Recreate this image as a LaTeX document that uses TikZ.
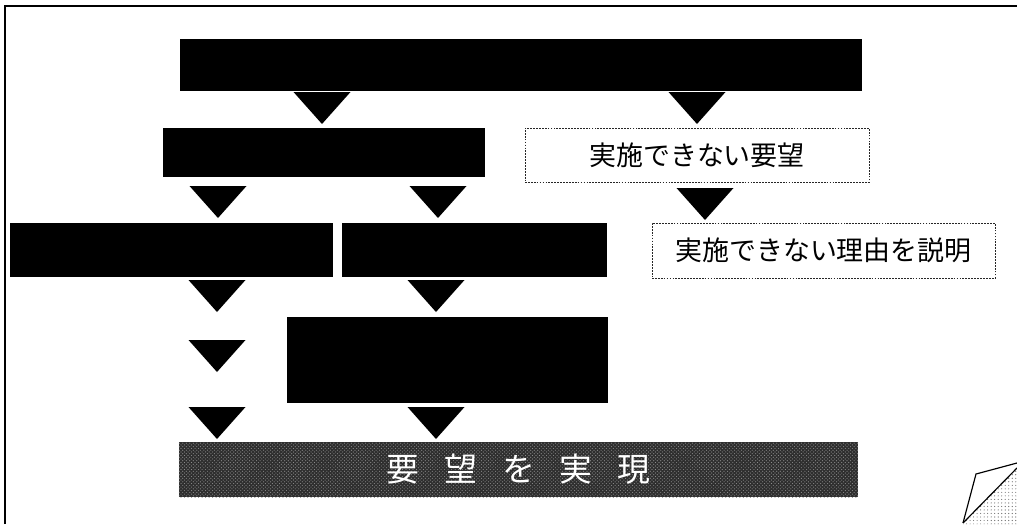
\documentclass[tikz,border=0pt]{standalone}
\usepackage{fontspec}
\newfontfamily\jpfont{Noto Sans CJK JP}
\usetikzlibrary{patterns}

\begin{document}
\begin{tikzpicture}[x=0.03cm,y=-0.03cm]
% les styles
\tikzstyle cadre=[line width=1.5pt]
\tikzstyle boitenoire=[fill=black,inner sep=0pt]
\tikzstyle boitepointillee=[draw=black!85,thin,dash pattern=on 1.5pt off 1pt,inner sep=0pt,font=\jpfont\fontsize{23}{26}\selectfont]
\tikzstyle boitegrain=[fill=black!82,postaction={pattern=crosshatch dots,pattern color=black!45},inner sep=0pt,text=white,font=\jpfont\fontsize{28}{30}\selectfont]
\tikzstyle coin=[line width=1pt]
\newcommand{\tlarg}{28.5} % demi-largeur des triangles
\newcommand{\thaut}{32}   % hauteur des triangles
\useasboundingbox (0,0) rectangle (1017,524);
% le cadre
\draw [cadre] (5,524) -- (5,6) -- (1017,6);
% les boites
\node [boitenoire,minimum width=20.46cm,minimum height=1.56cm] (haut) at (521,65) {};
\node [boitenoire,minimum width=9.66cm,minimum height=1.47cm] (etude) at (324,152.5) {};
\node [boitepointillee,minimum width=10.32cm,minimum height=1.62cm] (nonrealis) at (697,155) {実施できない要望};
\node [boitenoire,minimum width=9.69cm,minimum height=1.62cm] (gauche) at (171.5,250) {};
\node [boitenoire,minimum width=7.95cm,minimum height=1.62cm] (droite) at (474.5,250) {};
\node [boitepointillee,minimum width=10.29cm,minimum height=1.65cm] (raison) at (823.5,250.5) {実施できない理由を説明};
\node [boitenoire,minimum width=9.63cm,minimum height=2.58cm] (milieu) at (447.5,360) {};
\node [boitegrain,minimum width=20.37cm,minimum height=1.65cm] (realise) at (518.5,469.5) {要\hspace{0.75cm}望\hspace{0.75cm}を\hspace{0.75cm}実\hspace{0.75cm}現};
% les triangles
\foreach \x/\y in {322/92,697/92,218/186,438/186,705/188,217/280,436/280,217/340,217/407,436/407}
    \fill[shift={(\x,\y)}] (-\tlarg,0) -- (\tlarg,0) -- (0,\thaut) -- cycle;
% le coin de page
\fill [pattern=dots,pattern color=black!60] (963,524) -- (1017,468) -- (1017,524) -- cycle;
\draw [coin] (963,523) -- (976,474) -- (1017,463);
\draw [coin] (963,523) -- (1017,468);
\end{tikzpicture}
\end{document}
